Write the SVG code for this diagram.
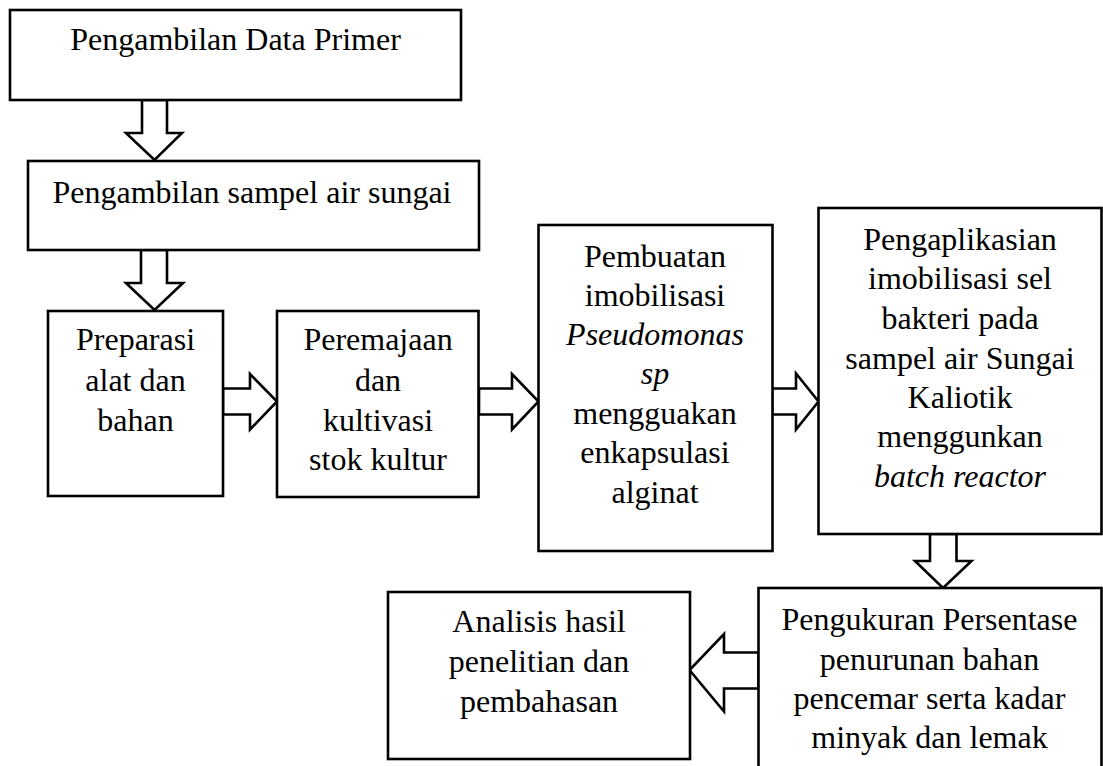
<svg xmlns="http://www.w3.org/2000/svg" width="1103" height="766" viewBox="0 0 1103 766">
<style>
.box{fill:#fff;stroke:#000;stroke-width:2.6}
.arr{fill:#fff;stroke:#000;stroke-width:2.6;stroke-linejoin:miter}
text{font-family:"Liberation Serif","Times New Roman",serif;font-size:32px;fill:#000;text-anchor:middle}
.it{font-style:italic}
</style>
<rect width="1103" height="766" fill="#fff"/>
<g id="connectors">
<polygon class="arr" points="142,100 167,100 167,133 182,133 154.5,160 126,133 142,133"/>
<polygon class="arr" points="141,250 167,250 167,283 183,283 154.5,310 126,283 141,283"/>
<polygon class="arr" points="223,388.5 250,388.5 250,374 277,401.5 250,429.5 250,414.5 223,414.5"/>
<polygon class="arr" points="479,388.5 512,388.5 512,374 538.5,401.5 512,429.5 512,414.5 479,414.5"/>
<polygon class="arr" points="772,388.5 796,388.5 796,373.5 818.5,401.5 796,429.5 796,414.5 772,414.5"/>
<polygon class="arr" points="930,534 956.5,534 956.5,561 971.5,561 943,588 915,561 930,561"/>
<polygon class="arr" points="758.5,652.5 724,652.5 724,634 689.5,670 724,711.5 724,688.5 758.5,688.5"/>
</g>
<g id="n1">
<rect class="box" x="10" y="10" width="451" height="90"/>
<text x="235.5" y="50">Pengambilan Data Primer</text>
</g>
<g id="n2">
<rect class="box" x="28" y="161" width="451" height="89"/>
<text x="252" y="203">Pengambilan sampel air sungai</text>
</g>
<g id="n3">
<rect class="box" x="48" y="311" width="175" height="185"/>
<text x="135.5" y="350">Preparasi</text>
<text x="135.5" y="390.5">alat dan</text>
<text x="135.5" y="431">bahan</text>
</g>
<g id="n4">
<rect class="box" x="277" y="311" width="201.5" height="186"/>
<text x="378" y="350">Peremajaan</text>
<text x="378" y="390.5">dan</text>
<text x="378" y="431">kultivasi</text>
<text x="378" y="470">stok kultur</text>
</g>
<g id="n5">
<rect class="box" x="538.5" y="225" width="234" height="326"/>
<text x="655" y="266.5">Pembuatan</text>
<text x="655" y="305.5">imobilisasi</text>
<text x="655" y="345" class="it">Pseudomonas</text>
<text x="655" y="384" class="it">sp</text>
<text x="655" y="423.5">mengguakan</text>
<text x="655" y="463">enkapsulasi</text>
<text x="655" y="503">alginat</text>
</g>
<g id="n6">
<rect class="box" x="818.5" y="208" width="283" height="326"/>
<text x="960" y="250">Pengaplikasian</text>
<text x="960" y="289">imobilisasi sel</text>
<text x="960" y="329">bakteri pada</text>
<text x="960" y="368.5">sampel air Sungai</text>
<text x="960" y="408">Kaliotik</text>
<text x="960" y="447">menggunkan</text>
<text x="960" y="487" class="it">batch reactor</text>
</g>
<g id="n7">
<rect class="box" x="758.5" y="588" width="343" height="190"/>
<text x="929.5" y="630">Pengukuran Persentase</text>
<text x="929.5" y="669.5">penurunan bahan</text>
<text x="929.5" y="709">pencemar serta kadar</text>
<text x="929.5" y="748">minyak dan lemak</text>
</g>
<g id="n8">
<rect class="box" x="388" y="592" width="302" height="167"/>
<text x="539" y="632">Analisis hasil</text>
<text x="539" y="672">penelitian dan</text>
<text x="539" y="711.5">pembahasan</text>
</g>
</svg>
